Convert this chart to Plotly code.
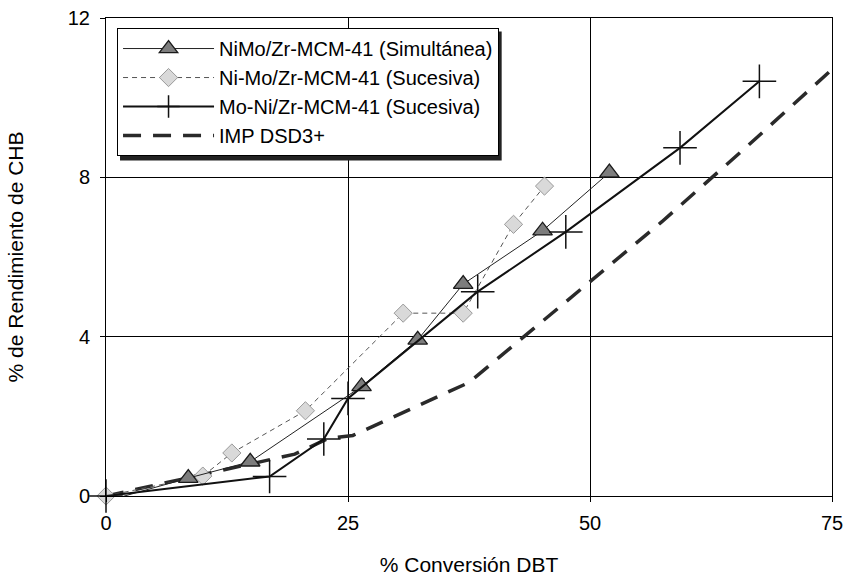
import plotly.graph_objects as go

# % conversion of DBT (x) and % yield of CHB (y) for each catalyst
simul_x = [0, 8.5, 14.9, 26.4, 32.2, 36.9, 45.1, 52.0]
simul_y = [-0.13, 0.45, 0.86, 2.75, 3.92, 5.32, 6.66, 8.12]

suc_nimo_x = [0, 10.0, 13.0, 20.6, 30.7, 36.9, 42.1, 45.3]
suc_nimo_y = [0, 0.5, 1.08, 2.14, 4.59, 4.59, 6.82, 7.78]

suc_moni_x = [0, 16.9, 22.5, 25.0, 38.4, 47.5, 59.3, 67.5]
suc_moni_y = [0, 0.49, 1.43, 2.45, 5.13, 6.63, 8.74, 10.41]

imp_x = [0, 19.5, 23.0, 25.5, 37.5, 46.2, 57.4, 66.2, 75.0, 77.0]
imp_y = [0, 1.05, 1.45, 1.52, 2.85, 4.6, 6.88, 8.77, 10.72, 11.15]

series_names = [
    "NiMo/Zr-MCM-41 (Simultánea)",
    "Ni-Mo/Zr-MCM-41 (Sucesiva)",
    "Mo-Ni/Zr-MCM-41 (Sucesiva)",
    "IMP DSD3+",
]

x_ticks = [0, 25, 50, 75]
y_ticks = [0, 4, 8, 12]

FONT = "Liberation Sans, Arial, sans-serif"

fig = go.Figure()

fig.add_trace(go.Scatter(
    x=imp_x, y=imp_y, name=series_names[3], mode="lines",
    line=dict(color="#2a2a2a", width=3.5, dash="18px,12px"),
    legendrank=4,
))
fig.add_trace(go.Scatter(
    x=suc_nimo_x, y=suc_nimo_y, name=series_names[1], mode="lines+markers",
    line=dict(color="#555555", width=1, dash="5px,4px"),
    marker=dict(symbol="diamond", size=14, color="#d9d9d9",
                line=dict(color="#9a9a9a", width=1)),
    cliponaxis=False, legendrank=2,
))
fig.add_trace(go.Scatter(
    x=simul_x, y=simul_y, name=series_names[0], mode="lines+markers",
    line=dict(color="#222222", width=1),
    marker=dict(symbol="triangle-up", size=17, color="#7d7d7d",
                line=dict(color="#1a1a1a", width=1.3)),
    cliponaxis=False, legendrank=1,
))
fig.add_trace(go.Scatter(
    x=suc_moni_x, y=suc_moni_y, name=series_names[2], mode="lines+markers",
    line=dict(color="#111111", width=2),
    marker=dict(symbol="cross-thin", size=24, color="#111111",
                line=dict(color="#111111", width=1.5)),
    cliponaxis=False, legendrank=3,
))

# drop shadow behind the legend box
fig.add_shape(type="rect", xref="paper", yref="paper",
              x0=0.0193, x1=0.545, y0=0.702, y1=0.972,
              fillcolor="#222222", line=dict(width=0), layer="above")

axis_common = dict(
    showline=True, linecolor="black", linewidth=1, mirror=True,
    showgrid=True, gridcolor="black", gridwidth=1,
    zeroline=False, ticks="outside", ticklen=5, tickcolor="black",
    automargin=False, ticklabeloverflow="allow",
    tickfont=dict(family=FONT, size=20, color="black"),
)

fig.update_layout(
    width=843, height=585,
    margin=dict(l=106, r=11, t=18, b=89),
    paper_bgcolor="white", plot_bgcolor="white",
    font=dict(family=FONT, color="black"),
    xaxis=dict(range=[0, 75], tickvals=x_ticks, ticklabelstandoff=4,
               title=dict(text="% Conversión DBT", font=dict(size=21), standoff=24),
               **axis_common),
    yaxis=dict(range=[0, 12], tickvals=y_ticks, ticklabelstandoff=6,
               title=dict(text="% de Rendimiento de CHB", font=dict(size=21), standoff=38),
               **axis_common),
    legend=dict(x=0.0152, y=0.979, xanchor="left", yanchor="top",
                bgcolor="white", bordercolor="black", borderwidth=1,
                font=dict(family=FONT, size=20, color="black"),
                itemwidth=91, tracegroupgap=0, traceorder="normal"),
    showlegend=True,
)

fig.write_html("out.html")
